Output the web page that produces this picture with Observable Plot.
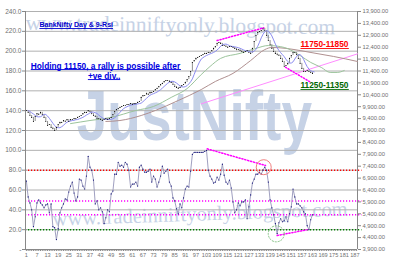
<!DOCTYPE html>
<html><head><meta charset="utf-8">
<script src="https://cdn.jsdelivr.net/npm/d3@7"></script>
<script src="https://cdn.jsdelivr.net/npm/@observablehq/plot@0.6"></script>
<style>body{margin:0;background:#fff;}</style>
</head><body><div id="chart"></div>
<script>
// ---- data ----
const closes = [
9740, 9660, 9530, 9450, 9280, 9490, 9610, 9570, 9660, 9570,
9450, 9280, 9110, 9150, 9030, 8980, 8900, 9030, 9150, 9240,
9240, 9320, 9280, 9360, 9280, 9360, 9360, 9400, 9400, 9450,
9490, 9530, 9610, 9660, 9660, 9740, 9700, 9610, 9530, 9490,
9400, 9400, 9360, 9320, 9360, 9400, 9360, 9400, 9450, 9570,
9700, 9780, 9820, 9870, 9910, 9950, 9950, 9990, 9990, 10030,
9990, 10030, 10030, 10080, 10120, 10290, 10370, 10370, 10460, 10410,
10500, 10500, 10540, 10620, 10670, 10750, 10830, 10880, 10960, 11000,
11000, 10960, 10920, 10830, 10750, 10710, 10670, 10710, 10790, 10830,
10920, 11040, 11170, 11380, 11760, 11840, 11930, 11970, 12010, 12050,
12090, 12140, 12140, 12180, 12180, 12260, 12350, 12430, 12560, 12600,
12560, 12470, 12470, 12430, 12390, 12430, 12430, 12390, 12350, 12300,
12300, 12260, 12220, 12180, 12220, 12260, 12180, 12140, 12350, 12640,
12890, 13020, 13060, 13100, 13190, 13100, 12890, 12680, 12510, 12350,
12220, 12140, 12090, 12050, 11930, 11800, 11590, 11630, 11720, 11930,
12050, 12180, 12180, 12090, 11930, 11720, 11510, 11380, 11380, 11420,
11380, 11340, 11300];

const rsi = [
69, 53, 47, 40, 23, 33, 47, 50, 47, 45,
42, 45, 46, 37, 46, 23, 22, 10, 21, 37,
42, 46, 51, 50, 58, 64, 68, 57, 49, 53,
71, 70, 64, 61, 74, 94, 83, 80, 70, 46,
49, 40, 42, 38, 26, 32, 40, 38, 56, 59,
76, 76, 88, 84, 85, 83, 88, 86, 80, 63,
66, 66, 68, 64, 83, 85, 81, 78, 78, 79,
81, 68, 74, 71, 63, 68, 74, 84, 77, 79,
81, 68, 64, 52, 49, 41, 36, 46, 42, 52,
61, 64, 63, 79, 96, 98, 98, 98, 98, 98,
98, 99, 100, 80, 74, 71, 67, 68, 73, 70,
76, 86, 75, 68, 66, 70, 62, 48, 37, 40,
47, 44, 48, 48, 50, 31, 43, 55, 67, 71,
76, 76, 78, 76, 80, 83, 80, 68, 50, 42,
35, 26, 16, 27, 31, 28, 29, 33, 28, 36,
43, 61, 53, 46, 46, 44, 42, 38, 36, 24,
20, 30, 35];

const greenIdx = [26, 37, 49, 63, 73, 83, 92, 100, 105, 111, 122, 131, 138, 147, 156, 162, 168, 173, 177, 181];
const greenVal = [9190, 9320, 9450, 9740, 9910, 10290, 10660, 11250, 11590, 11930, 12140, 12350, 12470, 12390, 12050, 11760, 11550, 11340, 11340, 11420];
const brownIdx = [46, 54, 66, 74, 87, 100, 108, 118, 128, 136, 140, 148, 156, 165, 175, 188.5];
const brownVal = [9280, 9320, 9530, 9740, 10160, 10620, 10960, 11300, 11840, 12300, 12390, 12350, 12260, 12140, 12010, 11800];
const pinkIdx = [100, 188.5];
const pinkVal = [10020, 12120];

// divergence annotations (index, value)
const priceDivA = [[109, 12680], [135.4, 13215]];
const priceDivB = [[147.7, 11560], [161.9, 10930]];
const rsiDivA = [[103.4, 101.5], [136.4, 84.7]];
const rsiDivB = [[143, 14.1], [160, 19.9]];
const circleRed = [[135.4, 83]];
const circleGreen = [[142.5, 15.8]];

const rsiLevels = [80, 49, 35, 20];
const rsiLevelColors = ["#ff0000", "#ff00ff", "#ff00ff", "#008000"];
const leftTicks = [0, 20, 40, 60, 80, 100, 120, 140, 160, 180, 200, 220, 240];
const priceTicks = [3900, 4400, 4900, 5400, 5900, 6400, 6900, 7400, 7900, 8400, 8900, 9400, 9900, 10400, 10900, 11400, 11900, 12400, 12900, 13400, 13900];
const xLabels = [1, 7, 13, 19, 25, 31, 37, 43, 49, 55, 61, 67, 73, 79, 85, 91, 97, 103, 109, 115, 121, 127, 133, 139, 145, 151, 157, 163, 169, 175, 181, 187];
const nCats = 188;

// ---- helpers ----
const toY = p => (p - 3900) * 0.024;           // price -> left (RSI) units
const fromY = v => v / 0.024 + 3900;
const cats = d3.range(1, nCats + 1);
const labelSet = new Set(xLabels);
const priceData = closes.map((c, k) => ({i: k + 1, c, prev: k ? closes[k - 1] : c}));
const rsiData = rsi.map((v, k) => ({i: k + 1, v}));
const green = greenIdx.map((x, k) => ({x, y: toY(greenVal[k])}));
const brown = brownIdx.map((x, k) => ({x, y: toY(brownVal[k])}));
const pink = pinkIdx.map((x, k) => ({x, y: toY(pinkVal[k])}));
const levels = rsiLevels.map((v, k) => ({v, c: rsiLevelColors[k]}));
const sans = "Liberation Sans, Arial, sans-serif";
const serif = "Liberation Serif, Times New Roman, serif";
const wm = "#c6d2e6";
const dots = "1.2,1.8";
const underlined = ["BankNifty Day & 9-Rsi", "Holding 11150, a rally is possible after", "+ve div..", "11750-11850", "11250-11350"];

const chart = Plot.plot({
  width: 400, height: 274,
  marginLeft: 25, marginRight: 43, marginTop: 11, marginBottom: 25,
  style: {fontFamily: sans, fontSize: "6.5px", color: "#707070", background: "#fff"},
  x: {type: "linear", domain: [0.5, nCats + 0.5]},
  y: {type: "linear", domain: [0, 240]},
  marks: [
    // watermarks
    Plot.text(["www.tradeinniftyonly.blogspot.com"], {x: 0.5, y: 221.5, textAnchor: "start", lineAnchor: "bottom", fontFamily: serif, fontSize: 21.5, fill: wm, rotate: 0.8}),
    Plot.text(["JustNifty"], {x: 29.5, y: 110, textAnchor: "start", lineAnchor: "bottom", fontFamily: sans, fontWeight: "bold", fontSize: 55, fill: wm}),
    Plot.text(["www.tradeinniftyonly.blogspot.com"], {x: 16, y: 24, textAnchor: "start", lineAnchor: "bottom", fontFamily: serif, fontSize: 20.5, fill: wm, rotate: -2}),
    // grid
    Plot.ruleY(leftTicks.filter(v => v > 0), {x1: 0.5, x2: nCats + 0.5, stroke: "#b0b0b0", strokeWidth: 1}),
    // RSI levels
    Plot.ruleY(levels, {y: "v", x1: 0.5, x2: 191, stroke: "c", strokeWidth: 1.5, strokeDasharray: dots}),
    // axis lines
    Plot.ruleX([0.5, nCats + 0.5], {y1: 0, y2: 240, stroke: "#888"}),
    Plot.ruleY([0], {x1: 0.5, x2: nCats + 0.5, stroke: "#888"}),
    // price overlays
    Plot.line(pink, {x: "x", y: "y", stroke: "#ff8cff", strokeWidth: 1}),
    Plot.line(brown, {x: "x", y: "y", stroke: "#b09090", strokeWidth: 1, curve: "monotone-x"}),
    Plot.line(green, {x: "x", y: "y", stroke: "#9cc49c", strokeWidth: 1, curve: "monotone-x"}),
    Plot.ruleX(priceData, {x: "i", y1: d => toY(d.prev), y2: d => toY(d.c), stroke: "#909090", strokeWidth: 1}),
    Plot.lineY(priceData, Plot.windowY({k: 5, anchor: "end"}, {x: d => d.i + 1, y: d => toY(d.c), stroke: "#8c8cf0", strokeWidth: 1})),
    Plot.dot(priceData, {x: "i", y: d => toY(d.c), r: 0.55, fill: "#000", stroke: null}),
    // RSI
    Plot.line(rsiData, {x: "i", y: "v", stroke: "#a0a0c0", strokeWidth: 1}),
    Plot.dot(rsiData, {x: "i", y: "v", r: 0.6, fill: "#000070", stroke: null}),
    // divergences
    Plot.line(priceDivA.map(([x, p]) => [x, toY(p)]), {stroke: "#ff00ff", strokeWidth: 1.5, strokeDasharray: dots}),
    Plot.line(priceDivB.map(([x, p]) => [x, toY(p)]), {stroke: "#ff00ff", strokeWidth: 1.5, strokeDasharray: dots}),
    Plot.line(rsiDivA, {stroke: "#ff00ff", strokeWidth: 1.5, strokeDasharray: dots}),
    Plot.line(rsiDivB, {stroke: "#ff00ff", strokeWidth: 1.5, strokeDasharray: dots}),
    Plot.dot(circleRed, {r: 7.5, stroke: "#f08080", strokeWidth: 1, fill: "none"}),
    Plot.dot(circleGreen, {r: 8, stroke: "#80c080", strokeWidth: 1, fill: "none", strokeDasharray: "2,1"}),
    // annotations
    Plot.text(["BankNifty Day & 9-Rsi"], {x: 8.4, y: 224, textAnchor: "start", lineAnchor: "bottom", fontSize: 7, fontWeight: "bold", fill: "#0000cc"}),
    Plot.text(["Holding 11150, a rally is possible after"], {x: 45.8, y: 182.5, textAnchor: "middle", lineAnchor: "bottom", fontSize: 8.3, fontWeight: "bold", fill: "#0000e0"}),
    Plot.text(["+ve div.."], {x: 45, y: 172.4, textAnchor: "middle", lineAnchor: "bottom", fontSize: 8.3, fontWeight: "bold", fill: "#0000e0"}),
    Plot.text(["11750-11850"], {x: 156.2, y: 203.7, textAnchor: "start", lineAnchor: "bottom", fontSize: 8.3, fontWeight: "bold", fill: "#ff0000"}),
    Plot.text(["11250-11350"], {x: 156.2, y: 162.4, textAnchor: "start", lineAnchor: "bottom", fontSize: 8.3, fontWeight: "bold", fill: "#006600"}),
    // axes
    Plot.axisY({anchor: "left", ticks: leftTicks, tickFormat: v => v === 0 ? "-" : v.toFixed(1), tickSize: 3, tickPadding: 1, label: null, stroke: "#888"}),
    Plot.axisY({anchor: "right", ticks: priceTicks.map(toY), tickFormat: v => d3.format(",.2f")(Math.round(fromY(v))), tickSize: 3, tickPadding: 2, label: null, fontSize: 5.8, stroke: "#888"}),
    Plot.axisX({ticks: cats, tickFormat: d => labelSet.has(d) ? String(d) : "", tickSize: 2, tickPadding: 2, label: null, fontSize: 5.6, stroke: "#888"})
  ]
});

document.getElementById("chart").appendChild(chart);

d3.select(chart).selectAll("text").each(function() {
  const t = this.textContent;
  if (t === "JustNifty") {
    const x0 = +this.getAttribute("x") || 0, y0 = +this.getAttribute("y") || 0;
    const prev = this.getAttribute("transform") || "";
    this.setAttribute("transform", `${prev} translate(${x0},${y0}) scale(1,1.27) translate(${-x0},${-y0})`);
  }
  if (underlined.includes(t)) {
    const b = this.getBBox();
    const fill = this.getAttribute("fill") || this.parentNode.getAttribute("fill");
    const fs = parseFloat(this.getAttribute("font-size") || this.parentNode.getAttribute("font-size") || 8);
    const yy = b.y + b.height - fs * 0.12;
    const line = document.createElementNS("http://www.w3.org/2000/svg", "line");
    line.setAttribute("x1", b.x); line.setAttribute("x2", b.x + b.width);
    line.setAttribute("y1", yy); line.setAttribute("y2", yy);
    line.setAttribute("stroke", fill); line.setAttribute("stroke-width", 0.9);
    if (this.getAttribute("transform")) line.setAttribute("transform", this.getAttribute("transform"));
    this.parentNode.appendChild(line);
  }
});
</script>
</body></html>
